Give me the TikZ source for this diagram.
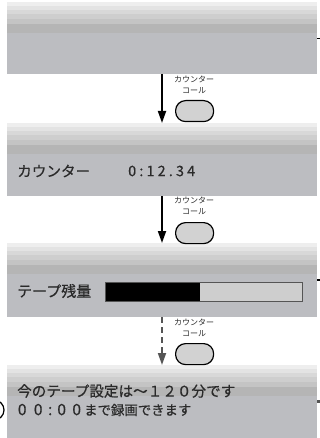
\documentclass[tikz,border=0pt]{standalone}
\usepackage{fontspec}
\setmainfont{Noto Sans CJK JP}
\newfontfamily\jpbold[FakeBold=0.5]{Noto Sans CJK JP}
\usetikzlibrary{arrows.meta}
\definecolor{panelgray}{HTML}{BCBDC1}
\definecolor{ga}{HTML}{EEEEEE}
\definecolor{gb}{HTML}{E3E3E3}
\definecolor{gc}{HTML}{D8D8D8}
\definecolor{gd}{HTML}{CECECE}
\definecolor{ge}{HTML}{C4C4C4}
\definecolor{gf}{HTML}{B5B5B5}
\definecolor{txt}{HTML}{2A2A2A}
\definecolor{btnfill}{HTML}{D2D2D2}
\definecolor{dashgray}{HTML}{555555}
\newcommand{\dg}[2]{\makebox[#1pt][c]{#2}}
\tikzset{
  panel/.style={anchor=north west, minimum width=310pt, inner sep=0pt, outer sep=0pt,
    fill=panelgray, path picture={
      \foreach \c/\a/\b in {ga/0/4, gb/4/8, gc/8/12, gd/12/17, ge/17/22, gf/22/31}
        {\fill[\c] ([yshift=-\a pt]path picture bounding box.north west) rectangle
                   ([yshift=-\b pt]path picture bounding box.north east);}
    }},
  ptext/.style={anchor=west, inner sep=0pt, text=txt},
  btn/.style={draw=black, line width=1.2pt, fill=btnfill, rounded corners=10pt,
    minimum width=38pt, minimum height=21pt, inner sep=0pt, anchor=north west},
  blabel/.style={align=center, font=\fontsize{8}{10.5}\selectfont, inner sep=0pt, text=txt},
  arr/.style={line width=1.8pt, -{Triangle[width=8pt,length=12pt]}},
  darr/.style={line width=1.8pt, dashgray, dash pattern=on 6pt off 4pt,
    -{Triangle[width=8pt,length=12pt]}},
  barbox/.style={anchor=north west, draw=dashgray, line width=1.4pt, fill=gd,
    minimum width=197pt, minimum height=19pt, inner sep=0pt},
}
\begin{document}
\begin{tikzpicture}[x=1pt,y=-1pt]
\useasboundingbox (0,0) rectangle (320,438);
% panels
\node[panel, minimum height=72pt] (p1) at (7,2) {};
\node[panel, minimum height=73pt] (p2) at (7,123) {};
\node[panel, minimum height=74pt] (p3) at (7,243) {};
\node[panel, minimum height=76pt] (p4) at (7,365) {};
% panel texts
\node[ptext, font=\jpbold\fontsize{14.6}{16}\selectfont] (t2a) at (17,171) {カウンター};
\node[ptext, font=\jpbold\fontsize{14.4}{16}\selectfont] (t2b) at (128,171) {\addfontfeature{LetterSpace=22}0:12.34};
\node[ptext, font=\jpbold\fontsize{15}{17}\selectfont] (t3a) at (17,291) {テープ残量};
\node[barbox, path picture={\fill[black] (path picture bounding box.north west) rectangle
  ([xshift=94pt]path picture bounding box.south west);}] (bar) at (105,282) {};
\node[ptext, font=\jpbold\fontsize{14.6}{17}\selectfont] (t4a) at (17,391) {今のテープ設定は～１２０分です};
\node[ptext, font=\jpbold\fontsize{13.4}{16}\selectfont] (t4b) at (14,410) {{\fontsize{15.5}{16}\selectfont\dg{16}{0}\dg{16}{0}\dg{8}{:}\dg{15}{0}\dg{15}{0}}まで録画できます};
% buttons and labels
\node[btn] (b1) at (175,100) {};
\node[btn] (b2) at (175,222) {};
\node[btn] (b3) at (175,343) {};
\node[blabel] (l1) at (194,85) {カウンター\\コール};
\node[blabel] (l2) at (194,206) {カウンター\\コール};
\node[blabel] (l3) at (194,328) {カウンター\\コール};
% arrows
\coordinate (ax) at (162,0);
\draw[arr] (p1.south -| ax) -- (p2.north -| ax);
\draw[arr] (p2.south -| ax) -- (p3.north -| ax);
\draw[darr] (p3.south -| ax) -- (p4.north -| ax);
% right leader stubs
\coordinate (e1) at (320,38);
\coordinate (e3) at (320,280);
\coordinate (e4) at (320,401);
\draw[line width=0.8pt] (p1.east |- e1) -- (e1);
\draw[line width=2pt] (p3.east |- e3) -- (e3);
\draw[line width=3pt, dashgray] (p4.east |- e4) -- (e4);
% cut-off circle at left
\node[draw=black, line width=1.2pt, circle, minimum size=20pt, inner sep=0pt] (c4) at (-6,410) {};
\end{tikzpicture}
\end{document}
